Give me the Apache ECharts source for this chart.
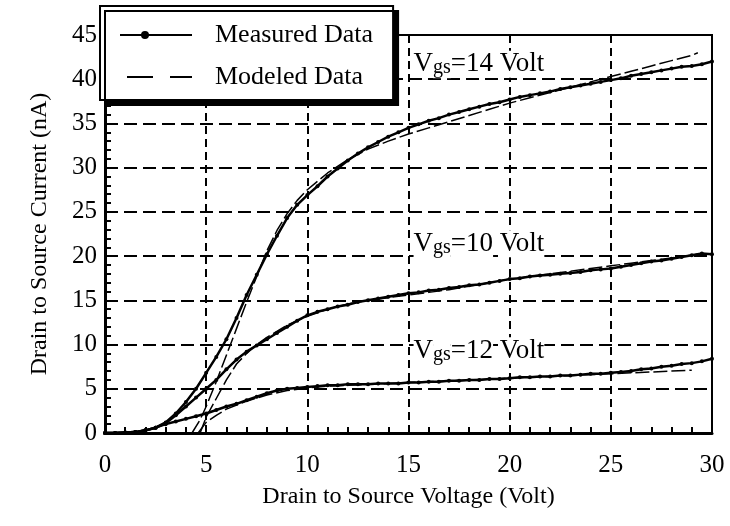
<!DOCTYPE html>
<html>
<head>
<meta charset="utf-8">
<script src="https://cdn.jsdelivr.net/npm/echarts@6/dist/echarts.min.js"></script>
<style>html,body{margin:0;padding:0;background:#fff}#c{width:730px;height:526px}</style>
</head>
<body>
<div id="c"></div>
<script>
// Drain-source voltage samples (Volt) for measured curves
const voltsMeasured = [0,0.5,1,1.5,2,2.5,3,3.5,4,4.5,5,5.5,6,6.5,7,7.5,8,8.5,9,9.5,10,10.5,11,11.5,12,12.5,13,13.5,14,14.5,15,15.5,16,16.5,17,17.5,18,18.5,19,19.5,20,20.5,21,21.5,22,22.5,23,23.5,24,24.5,25,25.5,26,26.5,27,27.5,28,28.5,29,29.5,30];
// Measured drain current (nA)
const measuredVgs14 = [0,0,0.05,0.1,0.3,0.6,1.2,2.2,3.5,5.0,6.8,8.6,10.6,13.0,15.6,17.9,20.2,22.3,24.3,25.8,26.9,27.9,29.0,29.9,30.8,31.6,32.3,32.9,33.5,34.0,34.5,34.9,35.3,35.6,36.0,36.3,36.6,36.9,37.2,37.4,37.7,38.0,38.2,38.4,38.6,38.9,39.1,39.3,39.5,39.7,39.9,40.1,40.4,40.6,40.8,41.0,41.2,41.4,41.5,41.7,42.0];
const measuredVgs10 = [0,0,0.05,0.1,0.3,0.6,1.1,2.0,3.0,4.0,5.0,6.0,7.2,8.3,9.2,9.9,10.6,11.3,12.0,12.7,13.3,13.7,14.0,14.3,14.5,14.8,15.0,15.2,15.4,15.6,15.8,15.9,16.1,16.2,16.4,16.5,16.7,16.8,17.0,17.2,17.4,17.5,17.7,17.8,17.9,18.0,18.1,18.2,18.4,18.5,18.6,18.8,19.0,19.2,19.4,19.5,19.7,19.9,20.1,20.3,20.2];
const measuredVgs12 = [0,0,0.05,0.1,0.3,0.6,1.0,1.3,1.6,1.9,2.2,2.6,3.0,3.3,3.7,4.1,4.5,4.8,5.0,5.1,5.2,5.3,5.4,5.4,5.5,5.5,5.5,5.6,5.6,5.6,5.7,5.7,5.8,5.8,5.9,5.9,6.0,6.0,6.1,6.1,6.2,6.3,6.3,6.4,6.4,6.5,6.5,6.6,6.7,6.7,6.8,6.9,7.0,7.2,7.3,7.5,7.6,7.8,7.9,8.1,8.4];
// Modeled curves
const modelVoltsVgs14 = [4.3,4.7,5,5.5,6,6.5,7,7.5,8,8.5,9,9.5,10,11,12,13,14,15,16,17,18,19,20,21,22,23,24,25,26,27,28,29,29.3];
const modeledVgs14 = [0,1.5,3.0,5.8,8.8,11.8,14.8,17.7,20.6,22.9,24.8,26.3,27.5,29.4,30.9,32.1,33.0,33.8,34.5,35.2,35.9,36.6,37.3,37.9,38.5,39.1,39.7,40.3,40.9,41.5,42.1,42.7,43.0];
const modelVoltsVgs10 = [4.7,5,5.5,6,6.5,7,7.5,8,9,10,11,12,13,14,15,16,17,18,19,20,21,22,23,24,25,26,27,28,29,29.5];
const modeledVgs10 = [0,1.8,3.9,6.0,7.8,9.0,10.0,10.8,12.2,13.2,14.0,14.6,15.0,15.3,15.6,15.9,16.2,16.6,17.0,17.4,17.7,18.0,18.3,18.6,18.9,19.2,19.5,19.8,20.1,20.3];
const modelVoltsVgs12 = [4.6,5,5.5,6,7,8,9,10,11,12,13,14,15,16,17,18,19,20,21,22,23,24,25,26,27,28,29];
const modeledVgs12 = [0,1.2,2.0,2.7,3.6,4.3,4.8,5.1,5.3,5.4,5.5,5.6,5.7,5.8,5.9,6.0,6.1,6.2,6.3,6.4,6.5,6.6,6.7,6.8,6.9,7.0,7.1];
const curveLabels = ['14', '10', '12'];
const legendNames = ['Measured Data', 'Modeled Data'];

function pairs(xs, ys) { return xs.map((x, i) => [x, ys[i]]); }

const FONT = 'Liberation Serif';
const rich = {
  v: {fontSize: 27, fontFamily: FONT, color: '#000', backgroundColor: '#fff', lineHeight: 26},
  s: {fontSize: 20, fontFamily: FONT, color: '#000', backgroundColor: '#fff', lineHeight: 26, padding: [8, 0, 0, 0]},
  sp: {fontSize: 27, fontFamily: FONT, color: '#000', lineHeight: 26}
};
function annot(x, y, label) {
  return {
    symbol: 'circle', symbolSize: 0, silent: true, animation: false,
    label: {show: true, position: 'right', distance: 0,
      formatter: '{v|V}{s|gs}{v|=' + label + '}{sp| }{v|Volt}', rich: rich},
    data: [{coord: [x, y]}]
  };
}

function measured(data, mp) {
  return {type: 'line', name: legendNames[0], data: data, symbol: 'circle', symbolSize: 4, showSymbol: true,
    lineStyle: {color: '#000', width: 2.5}, itemStyle: {color: '#000'}, z: 3, markPoint: mp, silent: true};
}
function modeled(data) {
  return {type: 'line', name: legendNames[1], data: data, symbol: 'none', showSymbol: false,
    lineStyle: {color: '#000', width: 1.5, type: [14, 4]}, itemStyle: {color: '#000'}, z: 2, silent: true};
}

// legend glyphs (icon box 72 x 14)
const CORNERS = 'M0,0h0.1v0.1h-0.1Z M72,14h-0.1v-0.1h0.1Z ';
const iconMeasured = 'path://' + CORNERS + 'M0,6H72V8H0Z M21,7A4,4 0 1,1 29,7A4,4 0 1,1 21,7Z';
const iconModeled = 'path://' + CORNERS + 'M7,6H33V8H7Z M50,6H72V8H50Z';

const chart = echarts.init(document.getElementById('c'), null, {renderer: 'canvas'});
chart.setOption({
  animation: false,
  backgroundColor: '#fff',
  textStyle: {fontFamily: FONT, color: '#000'},
  grid: {left: 105, right: 18, top: 35, bottom: 93, show: true, borderColor: '#000', borderWidth: 2, backgroundColor: 'transparent'},
  legend: {
    data: [{name: legendNames[0], icon: iconMeasured}, {name: legendNames[1], icon: iconModeled}],
    orient: 'vertical', left: 100, top: 6, itemWidth: 72, itemHeight: 14, itemGap: 14,
    padding: [15, 20, 9, 20], backgroundColor: '#fff', borderColor: '#000', borderWidth: 2,
    shadowColor: '#000', shadowBlur: 0, shadowOffsetX: 5, shadowOffsetY: 5, selectedMode: false,
    itemStyle: {color: '#000', borderWidth: 0},
    textStyle: {fontSize: 26, lineHeight: 28, color: '#000', fontFamily: FONT, padding: [0, 0, 0, 18]}
  },
  xAxis: {
    type: 'value', min: 0, max: 30, interval: 5,
    axisLine: {lineStyle: {color: '#000', width: 3}},
    axisTick: {inside: true, length: 6, lineStyle: {color: '#000', width: 2}},
    minorTick: {show: true, splitNumber: 5, length: 6, lineStyle: {color: '#000', width: 2}},
    splitLine: {show: true, lineStyle: {color: '#000', width: 2, type: [8, 5]}},
    axisLabel: {fontSize: 25, color: '#000', margin: 20, fontFamily: FONT},
    name: 'Drain to Source Voltage (Volt)', nameLocation: 'middle', nameGap: 52,
    nameTextStyle: {fontSize: 24, color: '#000', fontFamily: FONT}
  },
  yAxis: {
    type: 'value', min: 0, max: 45, interval: 5,
    axisLine: {lineStyle: {color: '#000', width: 3}},
    axisTick: {inside: true, length: 6, lineStyle: {color: '#000', width: 2}},
    minorTick: {show: true, splitNumber: 5, length: 6, lineStyle: {color: '#000', width: 2}},
    splitLine: {show: true, lineStyle: {color: '#000', width: 2, type: [13, 6]}},
    axisLabel: {fontSize: 25, color: '#000', margin: 8, fontFamily: FONT},
    name: 'Drain to Source Current (nA)', nameLocation: 'middle', nameGap: 53, nameRotate: 90,
    nameTextStyle: {fontSize: 24, color: '#000', fontFamily: FONT}
  },
  series: [
    modeled(pairs(modelVoltsVgs14, modeledVgs14)),
    modeled(pairs(modelVoltsVgs10, modeledVgs10)),
    modeled(pairs(modelVoltsVgs12, modeledVgs12)),
    measured(pairs(voltsMeasured, measuredVgs14), annot(15.25, 41.7, curveLabels[0])),
    measured(pairs(voltsMeasured, measuredVgs10), annot(15.25, 21.4, curveLabels[1])),
    measured(pairs(voltsMeasured, measuredVgs12), annot(15.25, 9.3, curveLabels[2]))
  ]
});
</script>
</body>
</html>
